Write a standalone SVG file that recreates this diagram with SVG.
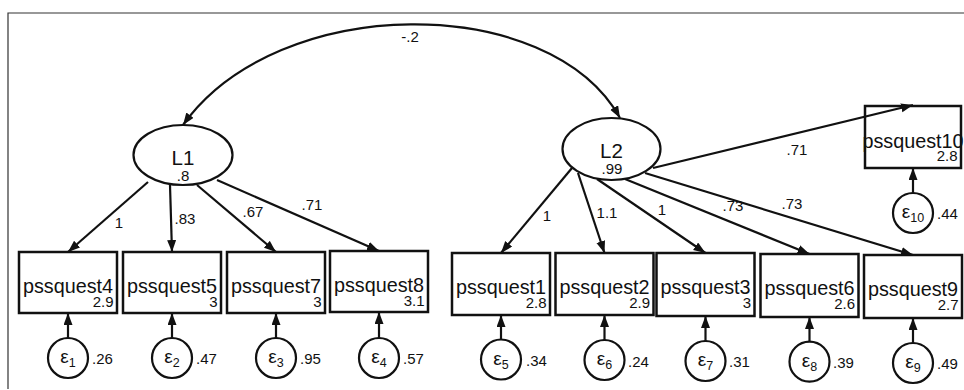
<svg xmlns="http://www.w3.org/2000/svg" width="964" height="390" viewBox="0 0 964 390">
<style>
text{font-family:"Liberation Sans",Arial,sans-serif;fill:#111}
.box{fill:#fff;stroke:#111;stroke-width:2.5}
.lat{fill:#fff;stroke:#111;stroke-width:2.2}
.err{fill:#fff;stroke:#111;stroke-width:2.2}
.name{font-size:19.8px;text-anchor:middle}
.val{font-size:15px;text-anchor:end}
.lv{font-size:20.5px;text-anchor:middle}
.lvv{font-size:15px;text-anchor:middle}
.eps{font-size:19px;text-anchor:middle}
.num{font-size:15px}
.path{fill:none;stroke:#111;stroke-width:2.2;marker-end:url(#ah)}
.cov{fill:none;stroke:#111;stroke-width:2.2;marker-end:url(#ah);marker-start:url(#ahs)}
</style>
<defs>
<marker id="ah" markerUnits="userSpaceOnUse" markerWidth="14" markerHeight="10" refX="12" refY="4.5" orient="auto">
<path d="M0,0 L12,4.5 L0,9 z" fill="#111"/>
</marker>
<marker id="ahs" markerUnits="userSpaceOnUse" markerWidth="14" markerHeight="10" refX="12" refY="4.5" orient="auto-start-reverse">
<path d="M0,0 L12,4.5 L0,9 z" fill="#111"/>
</marker>
</defs>
<rect width="964" height="390" fill="#fff"/>
<path d="M8,389 V13 H964" fill="none" stroke="#333" stroke-width="1.2"/>

<g id="L1">
<ellipse class="lat" cx="183" cy="155" rx="49.5" ry="30"/>
<text class="lv" x="183" y="164.5">L1</text>
<text class="lvv" x="183" y="180.5">.8</text>
</g>
<g id="L2">
<ellipse class="lat" cx="611.5" cy="149" rx="49" ry="31"/>
<text class="lv" x="611.5" y="157.5">L2</text>
<text class="lvv" x="612" y="173.5">.99</text>
</g>

<g id="pssquest4"><rect class="box" x="19" y="252" width="98" height="61"/><text class="name" x="68" y="293">pssquest4</text><text class="val" x="113.5" y="306.5">2.9</text></g>
<g id="pssquest5"><rect class="box" x="123" y="252" width="98" height="61"/><text class="name" x="172" y="293">pssquest5</text><text class="val" x="217.5" y="306.5">3</text></g>
<g id="pssquest7"><rect class="box" x="227" y="252" width="98" height="61"/><text class="name" x="276" y="293">pssquest7</text><text class="val" x="321.5" y="306.5">3</text></g>
<g id="pssquest8"><rect class="box" x="330" y="251" width="98" height="61"/><text class="name" x="379" y="292">pssquest8</text><text class="val" x="424.5" y="305.5">3.1</text></g>
<g id="pssquest1"><rect class="box" x="452" y="253" width="98" height="62"/><text class="name" x="501" y="294">pssquest1</text><text class="val" x="546.5" y="307.5">2.8</text></g>
<g id="pssquest2"><rect class="box" x="555.5" y="253" width="98" height="62"/><text class="name" x="604.5" y="294">pssquest2</text><text class="val" x="650" y="307.5">2.9</text></g>
<g id="pssquest3"><rect class="box" x="656.5" y="253" width="98" height="63"/><text class="name" x="705.5" y="294">pssquest3</text><text class="val" x="751" y="307.5">3</text></g>
<g id="pssquest6"><rect class="box" x="760.5" y="254" width="98" height="63"/><text class="name" x="809.5" y="295">pssquest6</text><text class="val" x="855" y="308.5">2.6</text></g>
<g id="pssquest9"><rect class="box" x="864" y="255" width="98" height="63"/><text class="name" x="913" y="296">pssquest9</text><text class="val" x="958.5" y="309.5">2.7</text></g>
<g id="pssquest10"><rect class="box" x="865" y="106" width="96" height="62"/><text class="name" x="913" y="147.5">pssquest10</text><text class="val" x="957.5" y="161">2.8</text></g>

<g id="e1"><circle class="err" cx="68" cy="358" r="20"/><text class="eps" x="68" y="363">ε<tspan font-size="12.5" dy="4">1</tspan></text><text class="num" x="92" y="364">.26</text></g>
<g id="e2"><circle class="err" cx="172" cy="358" r="20"/><text class="eps" x="172" y="363">ε<tspan font-size="12.5" dy="4">2</tspan></text><text class="num" x="196" y="364">.47</text></g>
<g id="e3"><circle class="err" cx="276" cy="358" r="20"/><text class="eps" x="276" y="363">ε<tspan font-size="12.5" dy="4">3</tspan></text><text class="num" x="300" y="364">.95</text></g>
<g id="e4"><circle class="err" cx="379" cy="358" r="20"/><text class="eps" x="379" y="363">ε<tspan font-size="12.5" dy="4">4</tspan></text><text class="num" x="403" y="364">.57</text></g>
<g id="e5"><circle class="err" cx="501" cy="359.5" r="20"/><text class="eps" x="501" y="364.5">ε<tspan font-size="12.5" dy="4">5</tspan></text><text class="num" x="526" y="366">.34</text></g>
<g id="e6"><circle class="err" cx="604.5" cy="360" r="20"/><text class="eps" x="604.5" y="365">ε<tspan font-size="12.5" dy="4">6</tspan></text><text class="num" x="628" y="366.5">.24</text></g>
<g id="e7"><circle class="err" cx="705.5" cy="361" r="20"/><text class="eps" x="705.5" y="366">ε<tspan font-size="12.5" dy="4">7</tspan></text><text class="num" x="729" y="367">.31</text></g>
<g id="e8"><circle class="err" cx="809.5" cy="361.7" r="20"/><text class="eps" x="809.5" y="366.7">ε<tspan font-size="12.5" dy="4">8</tspan></text><text class="num" x="833" y="368">.39</text></g>
<g id="e9"><circle class="err" cx="913" cy="363" r="20"/><text class="eps" x="913" y="368">ε<tspan font-size="12.5" dy="4">9</tspan></text><text class="num" x="937" y="369">.49</text></g>
<g id="e10"><circle class="err" cx="913" cy="213" r="20"/><text class="eps" x="913" y="218">ε<tspan font-size="12.5" dy="4">10</tspan></text><text class="num" x="937" y="219">.44</text></g>

<g id="connectors">
<path class="cov" d="M620,118 C550,-8 278,-8 183,125"/>
<text class="num" x="410" y="42" text-anchor="middle">-.2</text>
<path class="path" d="M148,182 L68,252"/>
<path class="path" d="M170,185 L172,252"/>
<path class="path" d="M197,185 L276,252"/>
<path class="path" d="M217,180 L379,251"/>
<text class="num" x="119" y="228" text-anchor="middle">1</text>
<text class="num" x="185" y="224" text-anchor="middle">.83</text>
<text class="num" x="253" y="217" text-anchor="middle">.67</text>
<text class="num" x="312" y="210" text-anchor="middle">.71</text>
<path class="path" d="M572,168 L501,253"/>
<path class="path" d="M578,173 L604.5,253"/>
<path class="path" d="M597,179 L705.5,253"/>
<path class="path" d="M625,179 L809.5,254"/>
<path class="path" d="M645,173 L913,255"/>
<path class="path" d="M653,168 L913,105"/>
<text class="num" x="547" y="221" text-anchor="middle">1</text>
<text class="num" x="607" y="218" text-anchor="middle">1.1</text>
<text class="num" x="662" y="215" text-anchor="middle">1</text>
<text class="num" x="733" y="211" text-anchor="middle">.73</text>
<text class="num" x="792" y="209" text-anchor="middle">.73</text>
<text class="num" x="797" y="155" text-anchor="middle">.71</text>
<path class="path" d="M68,338 V313"/>
<path class="path" d="M172,338 V313"/>
<path class="path" d="M276,338 V313"/>
<path class="path" d="M379,338 V312"/>
<path class="path" d="M501,339.5 V315"/>
<path class="path" d="M604.5,340 V315"/>
<path class="path" d="M705.5,341 V316"/>
<path class="path" d="M809.5,341.7 V317"/>
<path class="path" d="M913,343 V318"/>
<path class="path" d="M913,193 V168"/>
</g>
</svg>
